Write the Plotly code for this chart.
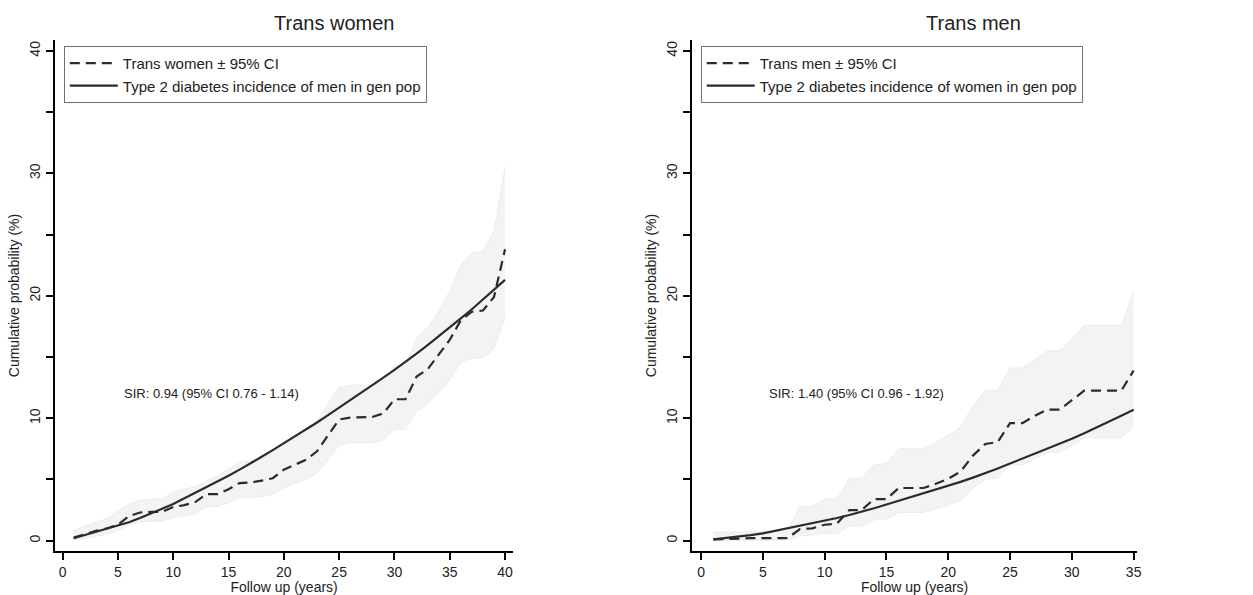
import plotly.graph_objects as go

# ---------------- data ----------------
years_tw = list(range(1, 41))
tw_est = [0.25, 0.55, 0.8, 1.0, 1.3, 2.0, 2.3, 2.35, 2.35, 2.75,
          2.9, 3.15, 3.8, 3.8, 4.2, 4.7, 4.75, 4.9, 5.1, 5.8,
          6.2, 6.6, 7.3, 8.6, 9.9, 10.05, 10.05, 10.1, 10.4, 11.55,
          11.55, 13.4, 14.0, 15.2, 16.4, 18.0, 18.7, 18.8, 19.9, 23.8]
tw_lo = [0.05, 0.2, 0.35, 0.5, 0.8, 1.3, 1.55, 1.6, 1.6, 1.85,
         2.0, 2.2, 2.8, 2.8, 3.1, 3.5, 3.5, 3.6, 3.8, 4.3,
         4.7, 5.0, 5.5, 6.6, 7.8, 8.0, 8.0, 8.0, 8.2, 9.1,
         9.1, 10.6, 11.2, 12.1, 13.1, 14.6, 14.9, 14.9, 15.7, 18.2]
tw_hi = [0.85, 1.2, 1.5, 1.8, 2.4, 3.0, 3.3, 3.4, 3.4, 4.0,
         4.2, 4.4, 4.9, 5.3, 5.8, 6.5, 6.5, 6.6, 7.2, 7.8,
         8.3, 8.8, 9.8, 11.2, 12.5, 12.7, 12.7, 12.7, 13.0, 14.3,
         14.3, 16.5, 17.4, 18.7, 20.4, 22.5, 23.5, 23.6, 25.3, 30.5]
men_gen = [0.2, 0.45, 0.7, 0.95, 1.2, 1.5, 1.85, 2.2, 2.6, 3.0,
           3.45, 3.9, 4.35, 4.8, 5.3, 5.8, 6.3, 6.85, 7.4, 7.95,
           8.5, 9.05, 9.65, 10.25, 10.85, 11.45, 12.06, 12.68, 13.31, 13.95,
           14.6, 15.28, 15.98, 16.68, 17.4, 18.15, 18.9, 19.7, 20.5, 21.3]

years_tm = list(range(1, 36))
tm_est = [0.1, 0.15, 0.15, 0.2, 0.2, 0.2, 0.2, 0.95, 1.0, 1.3,
          1.4, 2.5, 2.5, 3.4, 3.4, 4.3, 4.3, 4.3, 4.65, 5.05,
          5.65, 6.95, 7.9, 8.05, 9.6, 9.6, 10.2, 10.7, 10.7, 11.45,
          12.25, 12.25, 12.25, 12.25, 13.9]
tm_lo = [0.0, 0.02, 0.02, 0.03, 0.03, 0.04, 0.05, 0.4, 0.45, 0.6,
         0.6, 1.2, 1.2, 1.7, 1.8, 2.3, 2.3, 2.3, 2.6, 2.9,
         3.3, 4.3, 5.0, 5.1, 6.2, 6.2, 6.7, 7.2, 7.2, 7.8,
         8.4, 8.4, 8.4, 8.4, 9.3]
tm_hi = [0.7, 0.72, 0.72, 0.74, 0.74, 0.75, 0.75, 2.8, 2.8, 3.4,
         3.4, 5.1, 5.1, 6.2, 6.3, 7.5, 7.5, 7.5, 8.0, 8.6,
         9.3, 11.0, 12.3, 12.3, 14.1, 14.1, 14.8, 15.5, 15.5, 16.4,
         17.6, 17.6, 17.6, 17.6, 20.4]
women_gen = [0.1, 0.2, 0.3, 0.45, 0.6, 0.8, 1.0, 1.2, 1.4, 1.6,
             1.85, 2.1, 2.35, 2.65, 2.95, 3.25, 3.55, 3.85, 4.15, 4.45,
             4.8, 5.15, 5.5, 5.9, 6.3, 6.7, 7.1, 7.5, 7.9, 8.32,
             8.78, 9.24, 9.72, 10.2, 10.7]

y_ticks = [0, 5, 10, 15, 20, 25, 30, 35, 40]
y_ticktext = ["0", "", "10", "", "20", "", "30", "", "40"]
x_ticks_tw = [0, 5, 10, 15, 20, 25, 30, 35, 40]
x_ticks_tm = [0, 5, 10, 15, 20, 25, 30, 35]

LINE = "#2b2b2b"
BAND = "#f3f3f3"
BAND_EDGE = "#e9e9e9"
FONT = "Liberation Sans, Arial, sans-serif"
TXT = "#222222"
W, H = 1253, 595

fig = go.Figure()


def add_panel(xs, lo, hi, est, gen, xa, ya, leg, est_name, gen_name, tag):
    fig.add_trace(go.Scatter(x=xs, y=lo, mode="lines", line=dict(color=BAND_EDGE, width=0.8),
                             showlegend=False, hoverinfo="skip", xaxis=xa, yaxis=ya, legend=leg))
    fig.add_trace(go.Scatter(x=xs, y=hi, mode="lines", line=dict(color=BAND_EDGE, width=0.8),
                             fill="tonexty", fillcolor=BAND, showlegend=False,
                             hoverinfo="skip", xaxis=xa, yaxis=ya, legend=leg))
    fig.add_trace(go.Scatter(x=xs, y=est, mode="lines", name=est_name, legendgroup=tag + "a",
                             line=dict(color=LINE, width=2.2, dash="10px,6px"),
                             xaxis=xa, yaxis=ya, legend=leg))
    fig.add_trace(go.Scatter(x=xs, y=gen, mode="lines", name=gen_name, legendgroup=tag + "b",
                             line=dict(color=LINE, width=2.2),
                             xaxis=xa, yaxis=ya, legend=leg))


add_panel(years_tw, tw_lo, tw_hi, tw_est, men_gen, "x", "y", "legend",
          "Trans women ± 95% CI", "Type 2 diabetes incidence of men in gen pop", "tw")
add_panel(years_tm, tm_lo, tm_hi, tm_est, women_gen, "x2", "y2", "legend2",
          "Trans men ± 95% CI", "Type 2 diabetes incidence of women in gen pop", "tm")


def px(v):
    return v / W


def py(v):
    return 1 - v / H


axis_common = dict(showline=True, linecolor="black", linewidth=2, ticks="outside",
                   ticklen=7, tickwidth=1.5, tickcolor="black", showgrid=False,
                   zeroline=False, tickfont=dict(size=14, color=TXT, family=FONT),
                   title_font=dict(size=14, color=TXT, family=FONT))

legend_common = dict(xanchor="left", yanchor="top", bgcolor="white",
                     bordercolor="#707070", borderwidth=1,
                     font=dict(size=15, family=FONT, color=TXT),
                     tracegroupgap=3, itemwidth=48, traceorder="normal")

ydom = [py(552), py(40)]
fig.update_layout(
    width=W, height=H,
    margin=dict(l=0, r=0, t=0, b=0),
    paper_bgcolor="white", plot_bgcolor="white",
    font=dict(family=FONT, color=TXT),
    xaxis=dict(domain=[px(55), px(515)], range=[-0.7, 40.75], tickvals=x_ticks_tw,
               title=dict(text="Follow up (years)", standoff=5), anchor="y", **axis_common),
    yaxis=dict(domain=ydom, range=[-0.85, 40.9], tickvals=y_ticks, ticktext=y_ticktext,
               tickangle=-90, title=dict(text="Cumulative probability (%)", standoff=4),
               anchor="x", **axis_common),
    xaxis2=dict(domain=[px(694), px(1141)], range=[-0.75, 35.3], tickvals=x_ticks_tm,
                title=dict(text="Follow up (years)", standoff=5), anchor="y2", **axis_common),
    yaxis2=dict(domain=ydom, range=[-0.85, 40.9], tickvals=y_ticks, ticktext=y_ticktext,
                tickangle=-90, title=dict(text="Cumulative probability (%)", standoff=4),
                anchor="x2", **axis_common),
    legend=dict(x=px(64), y=py(46), **legend_common),
    legend2=dict(x=px(703), y=py(46), **legend_common),
    annotations=[
        dict(text="Trans women", x=px(335), y=py(23), xref="paper", yref="paper",
             xanchor="center", yanchor="middle", showarrow=False,
             font=dict(size=20, family=FONT, color=TXT)),
        dict(text="Trans men", x=px(977), y=py(23), xref="paper", yref="paper",
             xanchor="center", yanchor="middle", showarrow=False,
             font=dict(size=20, family=FONT, color=TXT)),
        dict(text="SIR: 0.94 (95% CI 0.76 - 1.14)", x=5.35, y=12.0, xref="x", yref="y",
             xanchor="left", yanchor="middle", showarrow=False,
             font=dict(size=13, family=FONT, color=TXT)),
        dict(text="SIR: 1.40 (95% CI 0.96 - 1.92)", x=5.35, y=12.0, xref="x2", yref="y2",
             xanchor="left", yanchor="middle", showarrow=False,
             font=dict(size=13, family=FONT, color=TXT)),
    ],
)

fig.write_html("out.html", config={"displayModeBar": False},
               post_script="document.body.style.margin='0px';")
